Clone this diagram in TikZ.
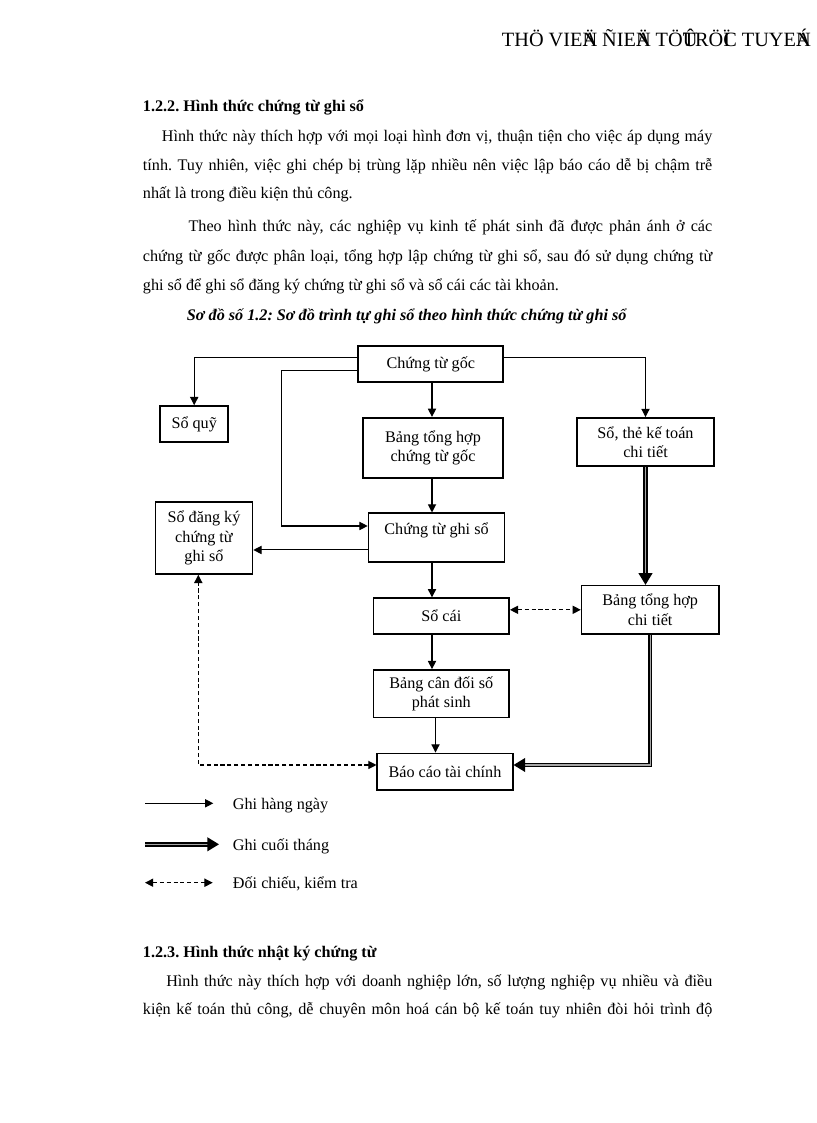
\documentclass[tikz,border=0pt]{standalone}
\usepackage{fontspec}
\setmainfont{Liberation Serif}
\usepackage{tikz}
\usetikzlibrary{arrows.meta}
\frenchspacing

\begin{document}
\begin{tikzpicture}[x=0.7296pt, y=-0.7296pt,
  every node/.style={font=\fontsize{11.8}{14.1}\selectfont},
  line/.style={anchor=base west, inner sep=0pt},
  ledger/.style 2 args={draw, line width=1.2pt, align=center, inner sep=2pt,
    minimum width=#1*0.7296pt, minimum height=#2*0.7296pt},
  daily/.style={line width=0.75pt, -{Triangle[length=6pt,width=6pt]}},
  monthly/.style={double=gray!70, double distance=0.8pt, line width=1.25pt,
    -{Triangle[length=8.5pt,width=10pt]}},
  crosscheck/.style={line width=0.75pt, dash pattern=on 3pt off 2pt,
    {Triangle[length=6pt,width=6pt]}-{Triangle[length=6pt,width=6pt]}}]
  \fill[white] (0,0) rectangle (816,1123);
  \useasboundingbox (0,0) rectangle (816,1123);

  % page text
  \node[line, font=\fontsize{14.8}{16}\selectfont] (header) at (501.7,46.7)
    {THÖ VIE\rlap{Ä}N ÑIE\rlap{Ä}N TÖ\rlap{Û}TRÖ\rlap{Ï}C TUYE\rlap{Á}N};
  \node[line] (head1) at (142.7,111.7) {\textbf{1.2.2. Hình thức chứng từ ghi sổ}};
  \node[line] (par1a) at (161.7,141.7) {\makebox[401.5pt][s]{Hình thức này thích hợp với mọi loại hình đơn vị, thuận tiện cho việc áp dụng máy}};
  \node[line] (par1b) at (142.7,170) {\makebox[415.4pt][s]{tính. Tuy nhiên, việc ghi chép bị trùng lặp nhiều nên việc lập báo cáo dễ bị chậm trễ}};
  \node[line] (par1c) at (142.7,198.3) {nhất là trong điều kiện thủ công.};
  \node[line] (par2a) at (188.3,231.7) {\makebox[382.1pt][s]{Theo hình thức này, các nghiệp vụ kinh tế phát sinh đã được phản ánh ở các}};
  \node[line] (par2b) at (142.7,261.7) {\makebox[415.4pt][s]{chứng từ gốc được phân loại, tổng hợp lập chứng từ ghi sổ, sau đó sử dụng chứng từ}};
  \node[line] (par2c) at (142.7,290) {ghi sổ để ghi sổ đăng ký chứng từ ghi sổ và sổ cái các tài khoản.};
  \node[line] (caption) at (186.7,320) {\textbf{\textit{Sơ đồ số 1.2: Sơ đồ trình tự ghi sổ theo hình thức chứng từ ghi sổ}}};
  \node[line] (head2) at (142.7,957.3) {\textbf{1.2.3. Hình thức nhật ký chứng từ}};
  \node[line] (par3a) at (166,986) {\makebox[398.4pt][s]{Hình thức này thích hợp với doanh nghiệp lớn, số lượng nghiệp vụ nhiều và điều}};
  \node[line] (par3b) at (142.7,1014.3) {\makebox[415.4pt][s]{kiện kế toán thủ công, dễ chuyên môn hoá cán bộ kế toán tuy nhiên đòi hỏi trình độ}};

  % boxes
  \node[ledger={145}{36.6}] (goc) at (430.8,364) {Chứng từ gốc};
  \node[ledger={68}{36}] (quy) at (194.2,424) {Sổ quỹ};
  \node[ledger={140.6}{60}] (bthgoc) at (433,447.7) {Bảng tổng hợp\\chứng từ gốc};
  \node[ledger={137}{48.3}] (sothe) at (645.5,442) {Sổ, thẻ kế toán\\chi tiết};
  \node[ledger={97}{72}] (dangky) at (204,538) {Sổ đăng ký\\chứng từ\\ghi sổ};
  \node[ledger={136}{48.4}, text height=9pt, text depth=14pt] (ctgs) at (436.5,537.5) {Chứng từ ghi sổ};
  \node[ledger={135.6}{35.7}] (socai) at (441.3,616) {Sổ cái};
  \node[ledger={137.2}{48.3}] (bthct) at (650.2,609.8) {Bảng tổng hợp\\chi tiết};
  \node[ledger={135.6}{47.7}] (cdps) at (441.3,693.8) {Bảng cân đối số\\phát sinh};
  \node[ledger={135.4}{36.7}] (bctc) at (445,771.7) {Báo cáo tài chính};

  % bends and ends
  \coordinate (colL) at (281.7,0);
  \coordinate (colD) at (198.3,0);
  \coordinate (colM) at (432,0);
  \coordinate (colN) at (435.5,0);
  \coordinate (gocW1) at ([yshift=4.6pt]goc.west);
  \coordinate (gocW2) at ([yshift=-4.4pt]goc.west);
  \coordinate (gocE) at ([yshift=4.6pt]goc.east);
  \coordinate (ctgsIn) at ([yshift=8.4pt]ctgs.west);
  \coordinate (ctgsOut) at ([yshift=-9.1pt]ctgs.west);
  \coordinate (bctcR) at ([yshift=4.9pt]bctc.east);
  \coordinate (bctcL) at ([yshift=4.9pt]bctc.west);

  % connectors
  \draw[daily] (gocW1) -| (quy.north);
  \draw[daily] (gocW2) -| (colL |- ctgsIn) -- (ctgsIn);
  \draw[daily] (gocE) -| (sothe.north);
  \draw[daily] (goc.south -| colM) -- (bthgoc.north -| colM);
  \draw[daily] (bthgoc.south -| colM) -- (ctgs.north -| colM);
  \draw[daily] (ctgsOut) -- (ctgsOut -| dangky.east);
  \draw[daily] (ctgs.south -| colM) -- (socai.north -| colM);
  \draw[daily] (socai.south -| colM) -- (cdps.north -| colM);
  \draw[daily] (cdps.south -| colN) -- (bctc.north -| colN);
  \draw[monthly] (sothe.south) -- (sothe.south |- bthct.north);
  \draw[monthly] (bthct.south) |- (bctcR);
  \draw[crosscheck] (bthct.west -| socai.east) -- (bthct.west);
  \draw[crosscheck] (bctcL) -| (colD |- dangky.south);

  % legend
  \foreach \y/\e/\s/\t [count=\i] in {803.3/213.3/daily/Ghi hàng ngày,
      844.3/219/monthly/Ghi cuối tháng, 882.7/212.7/crosscheck/{Đối chiếu, kiểm tra}}{
    \coordinate (lgA\i) at (145,\y);
    \coordinate (lgB\i) at (\e,\y);
    \draw[\s] (lgA\i) -- (lgB\i);
    \node[line] (lgT\i) at (232.7,{\y+5.7}) {\t};
  }
\end{tikzpicture}
\end{document}
